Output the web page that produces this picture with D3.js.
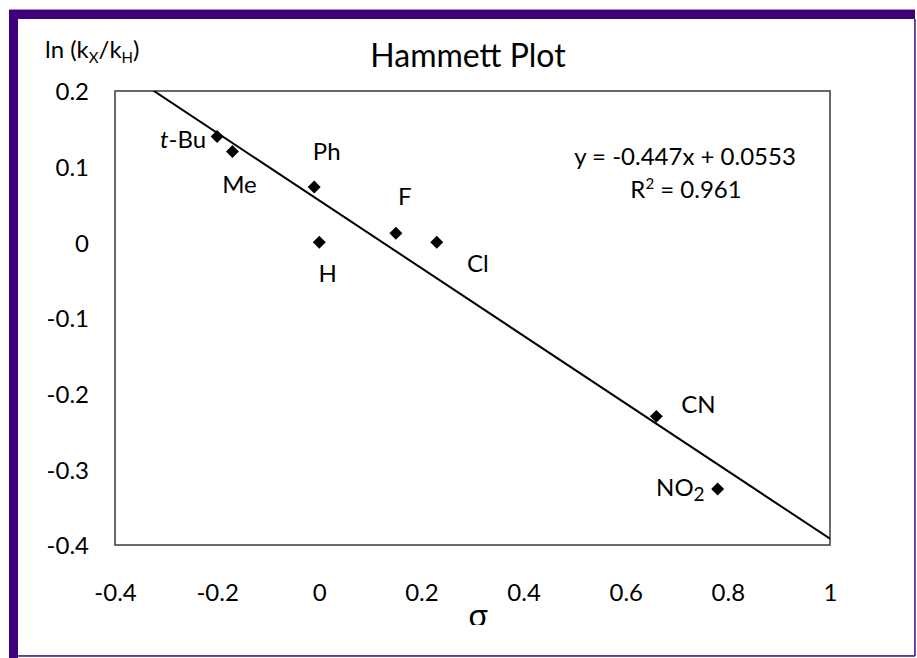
<!DOCTYPE html>
<html><head><meta charset="utf-8">
<script src="https://cdn.jsdelivr.net/npm/d3@7"></script>
<style>body{margin:0;background:#fff;}svg{display:block;}text{font-family:Lato,"Open Sans",sans-serif;fill:#000;}</style>
</head><body>
<svg id="c" width="917" height="658"></svg>
<script>
const substituents = ["t-Bu","Me","Ph","H","F","Cl","CN","NO2"];
const sigma = [-0.20,-0.17,-0.01,0.00,0.15,0.23,0.66,0.78];
const lnRatio = [0.140,0.120,0.073,0.000,0.012,0.000,-0.230,-0.326];
const xTicks = [-0.4,-0.2,0,0.2,0.4,0.6,0.8,1];
const yTicks = [0.2,0.1,0,-0.1,-0.2,-0.3,-0.4];
const fitSlope = -0.447, fitIntercept = 0.0553;
const fitLabel = "y = -0.447x + 0.0553";
const r2Label = "0.961";

const svg = d3.select("#c");
const FS = "24px";
// purple frame
svg.append("rect").attr("x",9.5).attr("y",9.5).attr("width",905).attr("height",646).attr("fill","none").attr("stroke","#a08cc8").attr("stroke-width",1);
svg.append("rect").attr("x",9).attr("y",10).attr("width",906).attr("height",9).attr("fill","#3f007d");
svg.append("rect").attr("x",9).attr("y",10).attr("width",9).attr("height",648).attr("fill","#3f007d");
svg.append("line").attr("x1",915).attr("x2",915).attr("y1",19).attr("y2",656).attr("stroke","#4a1a8a").attr("stroke-width",1.5);
svg.append("line").attr("x1",18).attr("x2",915).attr("y1",656).attr("y2",656).attr("stroke","#4a1a8a").attr("stroke-width",1.5);

const L=115,R=830,T=91,B=545;
const x = d3.scaleLinear().domain([-0.4,1]).range([L,R]);
const y = d3.scaleLinear().domain([-0.4,0.2]).range([B,T]);
const fmt = d => String(+d.toFixed(1));

const defs = svg.append("defs");
defs.append("clipPath").attr("id","clip").append("rect").attr("x",L).attr("y",T).attr("width",R-L).attr("height",B-T);
defs.append("clipPath").attr("id","sigclip").append("rect").attr("x",0).attr("y",0).attr("width",917).attr("height",625);

// axes
const xa = svg.append("g").attr("transform",`translate(0,${B})`).call(d3.axisBottom(x).tickValues(xTicks).tickSize(0).tickFormat(fmt));
xa.select(".domain").remove();
xa.selectAll("text").attr("y",56).attr("dy",0).style("font-size",FS).style("font-family","Lato,sans-serif").attr("fill","#000");
const ya = svg.append("g").attr("transform",`translate(${L},0)`).call(d3.axisLeft(y).tickValues(yTicks).tickSize(0).tickFormat(fmt));
ya.select(".domain").remove();
ya.selectAll("text").attr("x",-26).attr("dy","0.37em").style("font-size",FS).style("font-family","Lato,sans-serif").attr("fill","#000");

// plot frame
svg.append("rect").attr("x",L).attr("y",T).attr("width",R-L).attr("height",B-T).attr("fill","none").attr("stroke","#444").attr("stroke-width",1.6);

// fit line
svg.append("path").attr("clip-path","url(#clip)")
  .attr("d",d3.line().x(d=>x(d)).y(d=>y(fitSlope*d+fitIntercept))([-0.4,1]))
  .attr("stroke","#000").attr("stroke-width",2).attr("fill","none");

// points (diamonds)
svg.append("g").selectAll("path").data(sigma).join("path")
  .attr("d",d3.symbol().type(d3.symbolSquare).size(84))
  .attr("transform",(d,i)=>`translate(${x(d)},${y(lnRatio[i])}) rotate(45)`)
  .attr("fill","#000");

// labels (offsets from point: dx, baseline dy, anchor)
const off = {"t-Bu":[-11,12,"end"],"Me":[7,41,"middle"],"Ph":[12.5,-27,"middle"],"H":[8.5,40,"middle"],"F":[9,-28,"middle"],"Cl":[41,30,"middle"],"CN":[42,-3,"middle"],"NO2":[-13,7,"end"]};
const lg = svg.append("g").style("font-size",FS);
substituents.forEach((s,i)=>{
  const o = off[s];
  const t = lg.append("text").attr("x",x(sigma[i])+o[0]).attr("y",y(lnRatio[i])+o[1]).attr("text-anchor",o[2]);
  if(s==="t-Bu"){t.append("tspan").attr("font-style","italic").text("t");t.append("tspan").text("-Bu");}
  else if(s==="NO2"){t.append("tspan").text("NO");t.append("tspan").attr("dy",5).style("font-size","19px").text("2");}
  else t.text(s);
});

// equation
svg.append("text").attr("x",685).attr("y",165).attr("text-anchor","middle").style("font-size",FS).text(fitLabel);
const r2 = svg.append("text").attr("x",686).attr("y",198).attr("text-anchor","middle").style("font-size",FS);
r2.append("tspan").text("R");
r2.append("tspan").attr("dy",-9).style("font-size","15px").text("2");
r2.append("tspan").attr("dy",9).text(" = "+r2Label);

// title
svg.append("text").attr("x",468).attr("y",67).attr("text-anchor","middle").style("font-size","32px").text("Hammett Plot");
// y-axis title
const yt = svg.append("text").attr("x",45).attr("y",58).style("font-size",FS);
yt.append("tspan").text("ln (k");
yt.append("tspan").attr("dy",5).style("font-size","15px").text("X");
yt.append("tspan").attr("dy",-5).text("/k");
yt.append("tspan").attr("dy",5).style("font-size","15px").text("H");
yt.append("tspan").attr("dy",-5).text(")");
// x-axis title (cut at the bottom in the original)
svg.append("text").attr("clip-path","url(#sigclip)").attr("x",478).attr("y",627).attr("text-anchor","middle").style("font-size","32px").text("σ");
</script>
</body></html>
